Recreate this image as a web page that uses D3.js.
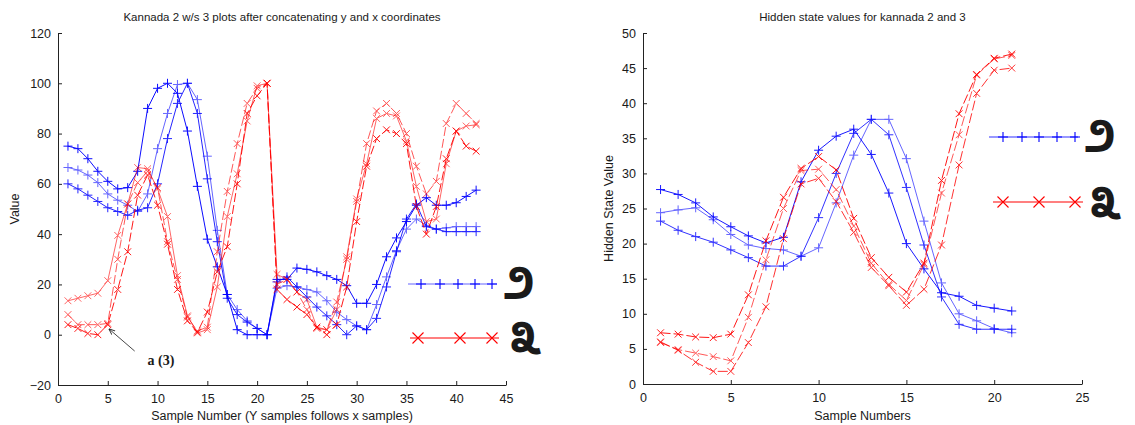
<!DOCTYPE html>
<html>
<head>
<meta charset="utf-8">
<script src="https://cdn.jsdelivr.net/npm/d3@7"></script>
<style>
body { margin: 0; background: #fff; }
svg text { font-family: "Liberation Sans", Arial, sans-serif; fill: #1a1a1a; }
</style>
</head>
<body>
<script>
// ---- left plot: kannada 2 (blue) and 3 (red), y coords then x coords
var leftBlue1 = [75, 74, 70, 65, 61, 58, 58.5, 65, 90, 98, 100, 96, 81, 59, 38, 27, 16, 2, 0, 0, 0,
                 22, 22, 26.5, 26, 25, 23.5, 22, 19.5, 12.5, 12.5, 20, 31, 38.5, 45, 51.5, 54.5, 51.5, 51.5, 52.5, 55, 57.5];
var leftBlue2 = [66.5, 65.5, 63.5, 60.5, 56, 53.5, 51.5, 49, 56, 74, 88, 99.5, 100, 93.5, 71, 41.5, 16, 10, 5.5, 2.5, 0,
                 18.5, 19.5, 19, 18, 17, 13.5, 9, 6, 3.5, 2, 12, 23, 33.5, 42, 46, 43.5, 42, 42.5, 43, 43, 43];
var leftBlue3 = [60, 58, 55.5, 53, 50.5, 49, 47.5, 49.5, 50.5, 60, 78, 92, 100, 88, 62, 37, 14.5, 8, 5, 2.5, 0,
                 21, 23, 19, 15, 11, 7.5, 4, 0, 3.5, 2, 6.5, 19, 33, 46, 52, 43, 42, 41, 41, 41, 41];
var leftRed1 = [13.5, 14.5, 15.5, 16.5, 21.5, 39.5, 52, 66.5, 66, 58, 47, 23.5, 7.5, 0.7, 2, 19, 47, 64, 85, 99, 100,
                24, 22, 17, 14, 3, 2, 10, 31, 54, 68, 86, 88, 87, 77, 59, 45, 46, 68, 81, 83, 83.5];
var leftRed2 = [4, 2.5, 0.5, 0, 4, 18, 33, 55.5, 63.5, 51.5, 36, 18, 5.5, 1, 9, 25, 35, 60, 88, 95, 100,
                18, 14, 11, 8, 3, 0, 4, 19, 45, 67, 78, 81.5, 80, 76, 51, 40, 51, 70, 81, 75, 73];
var leftRed3 = [8, 4, 4, 4, 4.5, 30, 52, 60.5, 65, 58.5, 37, 22, 7, 1.5, 3, 33, 57, 76, 92, 98, 100,
                20, 22, 17, 10, 2.5, 2, 13, 30, 53, 76, 89, 92, 88, 80, 67, 56, 61, 84, 92, 88, 84];

// ---- right plot: hidden state values
var rightBlue1 = [27.7, 27, 25.8, 23.8, 22.4, 21.1, 20.1, 20.9, 28.8, 33.3, 35.3, 36.3, 32.7, 27.2, 20, 16.4, 13, 12.5, 11.2, 10.8, 10.4];
var rightBlue2 = [24.4, 24.8, 25.1, 23.4, 21.3, 19.8, 19.3, 19.1, 18.2, 19.4, 25.8, 32.6, 37.7, 37.7, 32.1, 23.2, 14.4, 10, 9, 7.9, 7.3];
var rightBlue3 = [23.2, 21.9, 21, 20.2, 19.1, 18, 16.8, 16.8, 18.2, 23.7, 30, 35.7, 37.7, 35.5, 28, 19.8, 12.4, 8.5, 7.8, 7.8, 7.8];
var rightRed1 = [7.3, 7.1, 6.7, 6.6, 7.1, 12.7, 20.4, 26.6, 30.7, 32.4, 30.5, 23.6, 18, 15.2, 13.1, 17.2, 29, 38.5, 44.1, 46.4, 47];
var rightRed2 = [5.9, 4.9, 4.4, 3.9, 3.3, 9.5, 17.7, 25, 30.4, 30.6, 27.7, 22.5, 17.2, 14.2, 11.9, 17, 27.2, 35.5, 44, 46.3, 46.8];
var rightRed3 = [6, 4.8, 3.1, 1.8, 1.8, 5.9, 11, 20.7, 28.5, 29.3, 26, 21.6, 16.6, 14, 11.2, 13.5, 19.8, 31.2, 41.4, 44.7, 45];

var leftXTicks = [0, 5, 10, 15, 20, 25, 30, 35, 40, 45];
var leftYTicks = [-20, 0, 20, 40, 60, 80, 100, 120];
var rightXTicks = [0, 5, 10, 15, 20, 25];
var rightYTicks = [0, 5, 10, 15, 20, 25, 30, 35, 40, 45, 50];

var glyphTwo = "\u0CE8";   // kannada digit two
var glyphThree = "\u0CE9"; // kannada digit three

var BLUE = "#0000ff", RED = "#ff0000";

var svg = d3.select("body").append("svg")
    .attr("width", 1135)
    .attr("height", 425);

function markerPath(kind, r) {
    if (kind == "+") return "M" + (-r) + ",0H" + r + "M0," + (-r) + "V" + r;
    return "M" + (-r) + "," + (-r) + "L" + r + "," + r + "M" + (-r) + "," + r + "L" + r + "," + (-r);
}

function drawPanel(p) {
    var x = d3.scaleLinear().domain(p.xDomain).range([p.left, p.right]);
    var y = d3.scaleLinear().domain(p.yDomain).range([p.bottom, p.top]);
    var g = svg.append("g");

    // axes, ticks pointing inward like matlab
    g.append("g")
        .attr("transform", "translate(0," + p.bottom + ")")
        .call(d3.axisBottom(x).tickValues(p.xTicks).tickSizeInner(-4).tickSizeOuter(0).tickPadding(9));
    g.append("g")
        .attr("transform", "translate(" + p.left + ",0)")
        .call(d3.axisLeft(y).tickValues(p.yTicks).tickSizeInner(-4).tickSizeOuter(0).tickPadding(7));
    g.selectAll(".domain").attr("stroke", "#222");
    g.selectAll(".tick line").attr("stroke", "#222");
    g.selectAll(".tick text").style("font-size", "12.5px").attr("fill", "#1a1a1a");

    var line = d3.line().x(function(d, i) { return x(i + 1); }).y(function(d) { return y(d); });

    p.series.forEach(function(s) {
        var sg = g.append("g").attr("opacity", s.opacity);
        sg.append("path")
            .attr("d", line(s.values))
            .attr("fill", "none")
            .attr("stroke", s.color)
            .attr("stroke-width", 1)
            .attr("stroke-dasharray", s.dash);
        sg.selectAll("path.m").data(s.values).enter()
            .append("path")
            .attr("class", "m")
            .attr("transform", function(d, i) { return "translate(" + x(i + 1) + "," + y(d) + ")"; })
            .attr("d", markerPath(s.marker, s.marker == "+" ? 4.5 : 3.4))
            .attr("stroke", s.color)
            .attr("stroke-width", 1)
            .attr("fill", "none");
    });

    // title and labels
    var cx = (p.left + p.right) / 2;
    g.append("text").attr("x", cx).attr("y", 21).attr("text-anchor", "middle")
        .style("font-size", "11.5px").text(p.title);
    g.append("text").attr("x", cx).attr("y", 420).attr("text-anchor", "middle")
        .style("font-size", "12.5px").text(p.xLabel);
    g.append("text").attr("transform", "translate(" + p.yLabelX + "," + ((p.top + p.bottom) / 2) + ") rotate(-90)")
        .attr("text-anchor", "middle").style("font-size", "12.5px").text(p.yLabel);

    // legend
    var lg = svg.append("g");
    p.legend.forEach(function(l) {
        lg.append("line").attr("x1", l.x1).attr("x2", l.x2).attr("y1", l.y).attr("y2", l.y)
            .attr("stroke", l.color).attr("stroke-width", 1.2).attr("opacity", l.opacity);
        l.marks.forEach(function(mx) {
            lg.append("path").attr("transform", "translate(" + mx + "," + l.y + ")")
                .attr("d", markerPath(l.marker, l.marker == "+" ? 5 : 5.5))
                .attr("stroke", l.color).attr("stroke-width", 1.1).attr("fill", "none");
        });
        lg.append("text").attr("x", l.gx).attr("y", l.gy)
            .style("font-family", "'Noto Sans Kannada','Noto Sans',sans-serif")
            .style("font-size", l.gsize + "px").style("font-weight", "bold")
            .attr("fill", "#000").text(l.glyph);
    });
    return {x: x, y: y, g: g};
}

var left = drawPanel({
    left: 58, right: 506, top: 33, bottom: 385,
    xDomain: [0, 45], yDomain: [-20, 120],
    xTicks: leftXTicks, yTicks: leftYTicks,
    title: "Kannada 2 w/s 3 plots after concatenating y and x coordinates",
    xLabel: "Sample Number (Y samples follows x samples)",
    yLabel: "Value", yLabelX: 19,
    series: [
        {values: leftBlue1, color: BLUE, marker: "+", dash: null, opacity: 0.95},
        {values: leftBlue2, color: BLUE, marker: "+", dash: null, opacity: 0.6},
        {values: leftBlue3, color: BLUE, marker: "+", dash: null, opacity: 0.85},
        {values: leftRed1, color: RED, marker: "x", dash: null, opacity: 0.6},
        {values: leftRed2, color: RED, marker: "x", dash: "9,3", opacity: 0.9},
        {values: leftRed3, color: RED, marker: "x", dash: "9,3", opacity: 0.65}
    ],
    legend: [
        {x1: 408, x2: 497, y: 284, color: BLUE, opacity: 0.6, marker: "+", marks: [421, 440, 458, 475, 492],
         glyph: glyphTwo, gx: 503, gy: 299, gsize: 46},
        {x1: 410, x2: 499, y: 338, color: RED, opacity: 1, marker: "x", marks: [418, 460, 492],
         glyph: glyphThree, gx: 509, gy: 354, gsize: 46}
    ]
});

var right = drawPanel({
    left: 643, right: 1082, top: 33, bottom: 384,
    xDomain: [0, 25], yDomain: [0, 50],
    xTicks: rightXTicks, yTicks: rightYTicks,
    title: "Hidden state values for kannada 2 and 3",
    xLabel: "Sample Numbers",
    yLabel: "Hidden State Value", yLabelX: 613,
    series: [
        {values: rightBlue1, color: BLUE, marker: "+", dash: null, opacity: 0.9},
        {values: rightBlue2, color: BLUE, marker: "+", dash: null, opacity: 0.6},
        {values: rightBlue3, color: BLUE, marker: "+", dash: null, opacity: 0.8},
        {values: rightRed1, color: RED, marker: "x", dash: "10,3", opacity: 0.9},
        {values: rightRed2, color: RED, marker: "x", dash: "10,3", opacity: 0.65},
        {values: rightRed3, color: RED, marker: "x", dash: "10,3", opacity: 0.8}
    ],
    legend: [
        {x1: 989, x2: 1078, y: 137, color: BLUE, opacity: 0.8, marker: "+", marks: [1003, 1022, 1039, 1057, 1075],
         glyph: glyphTwo, gx: 1084, gy: 152, gsize: 46},
        {x1: 993, x2: 1083, y: 202, color: RED, opacity: 1, marker: "x", marks: [1003, 1039, 1075],
         glyph: glyphThree, gx: 1089, gy: 219, gsize: 46}
    ]
});

// annotation pointing at the 5th sample of one red trace
var ann = left.g.append("g");
ann.append("defs").append("marker")
    .attr("id", "arrowhead").attr("viewBox", "0 0 10 10").attr("refX", 9).attr("refY", 5)
    .attr("markerWidth", 7).attr("markerHeight", 7).attr("orient", "auto")
    .append("path").attr("d", "M0,1L10,5L0,9").attr("fill", "none").attr("stroke", "#000").attr("stroke-width", 1.2);
ann.append("line")
    .attr("x1", left.x(7.7)).attr("y1", left.y(-6.5))
    .attr("x2", left.x(5.15)).attr("y2", left.y(2.2))
    .attr("stroke", "#333").attr("stroke-width", 0.9)
    .attr("marker-end", "url(#arrowhead)");
ann.append("text")
    .attr("x", left.x(9)).attr("y", left.y(-12))
    .style("font-family", "'Liberation Serif','Times New Roman',serif")
    .style("font-size", "14px").style("font-weight", "bold")
    .attr("fill", "#000").text("a (3)");
</script>
</body>
</html>
